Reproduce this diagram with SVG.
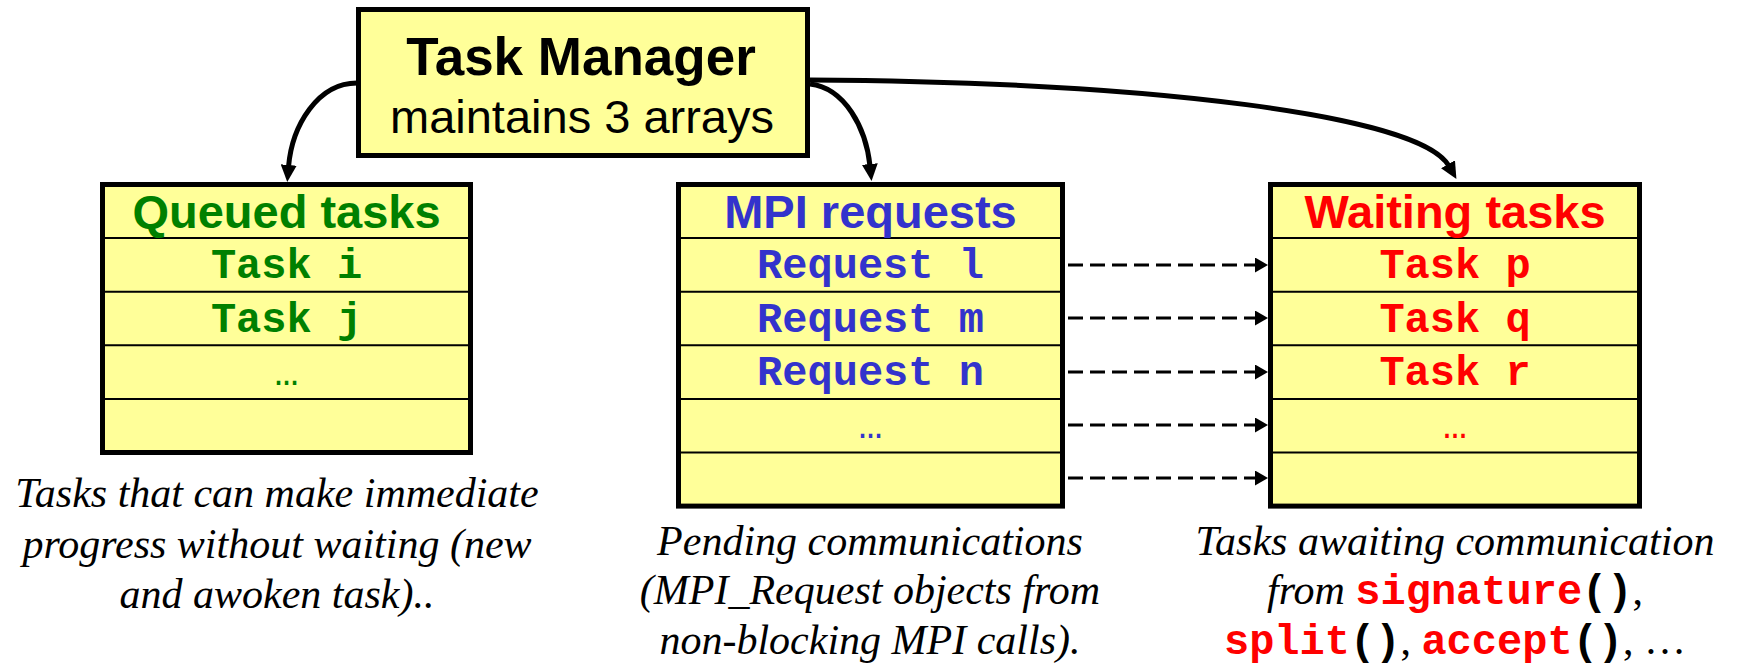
<svg xmlns="http://www.w3.org/2000/svg" width="1739" height="665" viewBox="0 0 1739 665">
  <style>
    .box { fill: #FFFF99; stroke: #000; stroke-width: 5; }
    .row { stroke: #000; stroke-width: 2; }
    .hdr { font-family: "Liberation Sans", Arial, sans-serif; font-weight: bold; font-size: 47px; text-anchor: middle; }
    .item { font-family: "Liberation Mono", "Courier New", monospace; font-weight: bold; font-size: 42px; text-anchor: middle; }
    .dots { font-family: "Liberation Mono", "Courier New", monospace; font-size: 40px; text-anchor: middle; }
    .cap { font-family: "Liberation Serif", "Times New Roman", serif; font-style: italic; font-size: 42px; text-anchor: middle; fill: #000; }
    .code { font-family: "Liberation Mono", "Courier New", monospace; font-style: normal; font-weight: bold; }
    .plain { font-style: normal; }
    .green { fill: #008000; }
    .blue { fill: #3333CC; }
    .red { fill: #FF0000; }
    .solid { fill: none; stroke: #000; stroke-width: 5; }
    .dash { fill: none; stroke: #000; stroke-width: 3; stroke-dasharray: 15 7; }
  </style>
  <defs>
    <marker id="head" viewBox="0 0 17 16" refX="2" refY="8" markerWidth="17" markerHeight="16" markerUnits="userSpaceOnUse" orient="auto">
      <path d="M0,0 L17,8 L0,16 z" fill="#000"/>
    </marker>
    <marker id="headSmall" viewBox="0 0 13 15" refX="1" refY="7.5" markerWidth="13" markerHeight="15" markerUnits="userSpaceOnUse" orient="auto">
      <path d="M0,0 L13,7.5 L0,15 z" fill="#000"/>
    </marker>
  </defs>

  <!-- connectors -->
  <g id="connectors">
    <path class="solid" d="M357,83 C318,83 292,125 288.5,167" marker-end="url(#head)"/>
    <path class="solid" d="M810,84 C845,88 866,128 870,166" marker-end="url(#head)"/>
    <path class="solid" d="M810,80 C1150,82 1420,115 1449,166" marker-end="url(#head)"/>
    <path class="dash" d="M1068,265 H1256" marker-end="url(#headSmall)"/>
    <path class="dash" d="M1068,318 H1256" marker-end="url(#headSmall)"/>
    <path class="dash" d="M1068,372 H1256" marker-end="url(#headSmall)"/>
    <path class="dash" d="M1068,425 H1256" marker-end="url(#headSmall)"/>
    <path class="dash" d="M1068,478 H1256" marker-end="url(#headSmall)"/>
  </g>

  <!-- task manager -->
  <g id="task-manager">
    <rect class="box" x="358.5" y="9.5" width="449" height="146"/>
    <text x="581" y="75" font-family="Liberation Sans, Arial, sans-serif" font-weight="bold" font-size="53" text-anchor="middle">Task Manager</text>
    <text x="582" y="133" font-family="Liberation Sans, Arial, sans-serif" font-size="47" text-anchor="middle">maintains 3 arrays</text>
  </g>

  <!-- queued tasks array -->
  <g id="queued-tasks">
    <rect class="box" x="102.5" y="184.5" width="368" height="268"/>
    <path class="row" d="M102.5,238.1 H470.5 M102.5,291.7 H470.5 M102.5,345.3 H470.5 M102.5,398.9 H470.5"/>
    <text class="hdr green" x="286.5" y="228">Queued tasks</text>
    <text class="item green" x="286.5" y="278">Task i</text>
    <text class="item green" x="286.5" y="332">Task j</text>
    <text class="dots green" x="286.5" y="385">…</text>
  </g>

  <!-- MPI requests array -->
  <g id="mpi-requests">
    <rect class="box" x="678.5" y="184.5" width="384" height="321.6"/>
    <path class="row" d="M678.5,238.1 H1062.5 M678.5,291.7 H1062.5 M678.5,345.3 H1062.5 M678.5,398.9 H1062.5 M678.5,452.5 H1062.5"/>
    <text class="hdr blue" x="870.5" y="228">MPI requests</text>
    <text class="item blue" x="870.5" y="278">Request l</text>
    <text class="item blue" x="870.5" y="332">Request m</text>
    <text class="item blue" x="870.5" y="385">Request n</text>
    <text class="dots blue" x="870.5" y="438">…</text>
  </g>

  <!-- waiting tasks array -->
  <g id="waiting-tasks">
    <rect class="box" x="1270.5" y="184.5" width="369" height="321.6"/>
    <path class="row" d="M1270.5,238.1 H1639.5 M1270.5,291.7 H1639.5 M1270.5,345.3 H1639.5 M1270.5,398.9 H1639.5 M1270.5,452.5 H1639.5"/>
    <text class="hdr red" x="1455" y="228">Waiting tasks</text>
    <text class="item red" x="1455" y="278">Task p</text>
    <text class="item red" x="1455" y="332">Task q</text>
    <text class="item red" x="1455" y="385">Task r</text>
    <text class="dots red" x="1455" y="438">…</text>
  </g>

  <!-- captions -->
  <g id="caption-queued">
    <text class="cap" x="277" y="507">Tasks that can make immediate</text>
    <text class="cap" x="277" y="558">progress without waiting (new</text>
    <text class="cap" x="277" y="608">and awoken task)..</text>
  </g>
  <g id="caption-mpi">
    <text class="cap" x="870" y="555">Pending communications</text>
    <text class="cap" x="870" y="604">(MPI_Request objects from</text>
    <text class="cap" x="870" y="654">non-blocking MPI calls).</text>
  </g>
  <g id="caption-waiting">
    <text class="cap" x="1455" y="555">Tasks awaiting communication</text>
    <text class="cap" x="1455" y="604">from <tspan class="code red">signature</tspan><tspan class="code">()</tspan><tspan class="plain">,</tspan></text>
    <text class="cap" x="1455" y="654"><tspan class="code red">split</tspan><tspan class="code">()</tspan><tspan class="plain">, </tspan><tspan class="code red">accept</tspan><tspan class="code">()</tspan><tspan class="plain">, …</tspan></text>
  </g>
</svg>
